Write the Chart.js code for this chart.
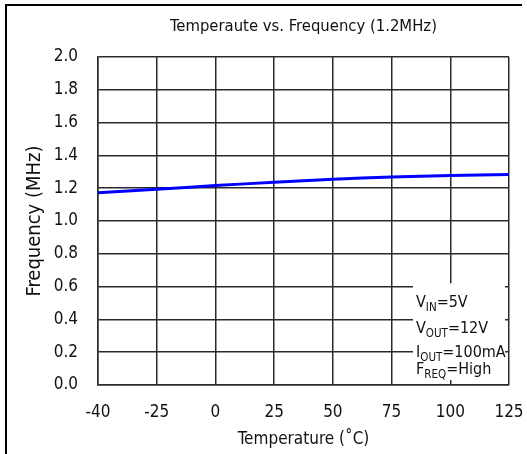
<!DOCTYPE html>
<html>
<head>
<meta charset="utf-8">
<script src="https://cdn.jsdelivr.net/npm/chart.js@4"></script>
<style>
  html, body { margin: 0; padding: 0; background: #fff; }
  canvas { display: block; }
</style>
</head>
<body>
<canvas id="tempFreq" width="527" height="454"></canvas>
<script>
// data
const temps = ["-40", "-25", "0", "25", "50", "75", "100", "125"];
const freqMHz = [1.173, 1.193, 1.216, 1.236, 1.254, 1.268, 1.277, 1.283];
const yTicks = [0.0, 0.2, 0.4, 0.6, 0.8, 1.0, 1.2, 1.4, 1.6, 1.8, 2.0];

const FONT = "'DejaVu Sans Condensed', 'Liberation Sans', sans-serif";
const TEXT = "#111";
const GRID = "#2a2a2a";

// outer frame (top + left edge only, like the cropped screenshot)
const framePlugin = {
  id: "frame",
  beforeDraw(chart) {
    const ctx = chart.ctx;
    ctx.save();
    ctx.fillStyle = "#fff";
    ctx.fillRect(0, 0, chart.width, chart.height);
    ctx.strokeStyle = "#000";
    ctx.lineWidth = 2;
    ctx.beginPath();
    ctx.moveTo(6, chart.height);
    ctx.lineTo(6, 5);
    ctx.lineTo(522, 5);
    ctx.stroke();
    ctx.restore();
  }
};

// conditions box in the lower right
const condPlugin = {
  id: "conditions",
  afterDatasetsDraw(chart) {
    const ctx = chart.ctx;
    const y = chart.scales.y;
    const right = chart.chartArea.right;
    const left = right - 96;
    const top = y.getPixelForValue(0.62);
    ctx.save();
    ctx.fillStyle = "#fff";
    ctx.fillRect(left, top, 92, y.getPixelForValue(0.03) - top);
    ctx.fillStyle = TEXT;
    ctx.textBaseline = "alphabetic";
    const lines = [["V", "IN", "=5V", 307], ["V", "OUT", "=12V", 333], ["I", "OUT", "=100mA", 357], ["F", "REQ", "=High", 374]];
    lines.forEach(([a, sub, rest, by]) => {
      let cx = left + 3;
      ctx.font = "16px " + FONT;
      ctx.fillText(a, cx, by);
      cx += ctx.measureText(a).width;
      ctx.font = "11.5px " + FONT;
      ctx.fillText(sub, cx, by + 4);
      cx += ctx.measureText(sub).width;
      ctx.font = "16px " + FONT;
      ctx.fillText(rest, cx, by);
    });
    ctx.restore();
  }
};

let ctx = document.getElementById("tempFreq").getContext("2d");
new Chart(ctx, {
  type: "line",
  data: {
    labels: temps,
    datasets: [
      {
        data: freqMHz,
        borderColor: "#0000ff",
        borderWidth: 3,
        pointRadius: 0,
        tension: 0.4,
        fill: false,
      },
    ],
  },
  options: {
    responsive: false,
    animation: false,
    layout: { padding: { left: 0, right: 18, top: 0, bottom: 0 } },
    plugins: {
      legend: { display: false },
      tooltip: { enabled: false },
      title: {
        display: true,
        text: "Temperaute vs. Frequency (1.2MHz)",
        fullSize: false,
        color: TEXT,
        font: { family: FONT, size: 16.5, weight: "normal" },
        padding: { top: 17, bottom: 20.2 },
      },
    },
    scales: {
      x: {
        type: "category",
        offset: false,
        grid: { color: GRID, lineWidth: 1.5, drawTicks: false },
        border: { color: GRID, width: 1.5 },
        ticks: { color: TEXT, font: { family: FONT, size: 17 }, padding: 17, maxRotation: 0, autoSkip: false },
        title: {
          display: true,
          text: "Temperature (˚C)",
          color: TEXT,
          font: { family: FONT, size: 17 },
          padding: { top: 0, bottom: 4 },
        },
        afterFit(scale) {
          scale.height = 69;
          scale.paddingLeft = 0;
          scale.paddingRight = 0;
        },
      },
      y: {
        min: 0,
        max: 2,
        afterBuildTicks(scale) { scale.ticks = yTicks.map(v => ({ value: v })); },
        grid: { color: GRID, lineWidth: 1.5, drawTicks: false },
        border: { color: GRID, width: 1.5 },
        ticks: {
          color: TEXT,
          font: { family: FONT, size: 17 },
          padding: 20,
          callback: v => v.toFixed(1),
        },
        title: {
          display: true,
          text: "Frequency (MHz)",
          color: TEXT,
          font: { family: FONT, size: 20 },
          padding: { top: 23, bottom: 0 },
        },
        afterFit(scale) {
          scale.width = 98;
          scale.paddingTop = 0;
          scale.paddingBottom = 0;
        },
      },
    },
  },
  plugins: [framePlugin, condPlugin],
});
</script>
</body>
</html>
